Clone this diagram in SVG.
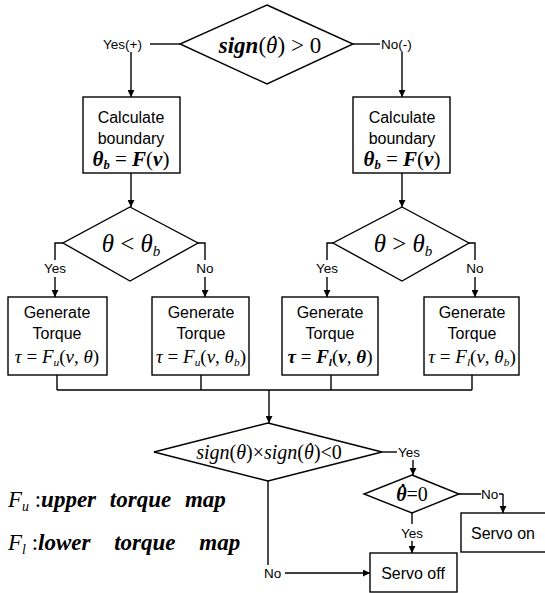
<svg xmlns="http://www.w3.org/2000/svg" width="545" height="593" viewBox="0 0 545 593">
<defs>
<marker id="ah" viewBox="0 0 10 10" refX="10" refY="5" markerWidth="7" markerHeight="7" orient="auto" markerUnits="userSpaceOnUse">
<path d="M0,0 L10,5 L0,10 z" fill="#000"/>
</marker>
</defs>
<style>
.shape{fill:#fff;stroke:#000;stroke-width:1.4}
.ln{fill:none;stroke:#000;stroke-width:1.4}
.arr{fill:none;stroke:#000;stroke-width:1.4;marker-end:url(#ah)}
.sans{font-family:"Liberation Sans",Arial,sans-serif;font-size:16px;fill:#000;text-anchor:middle}
.lab{font-family:"Liberation Sans",Arial,sans-serif;font-size:13.5px;fill:#000}
.mid{text-anchor:middle}
.math{font-family:"Liberation Serif","Times New Roman",serif;font-style:italic;font-weight:normal;fill:#000}
.b{font-weight:bold}
.rm{font-style:normal;font-weight:normal}
.sub{font-size:0.6em}
</style>
<rect width="545" height="593" fill="#fff"/>

<g id="connectors">
<path class="ln" d="M150,44 H180"/>
<path class="arr" d="M131,52 V97"/>
<path class="ln" d="M353,44 H380"/>
<path class="arr" d="M402,52 V97"/>
<path class="arr" d="M131,173 V207"/>
<path class="arr" d="M402,173 V207"/>
<path class="ln" d="M63,243 H55 V260"/>
<path class="arr" d="M55,277 V297"/>
<path class="ln" d="M198,243 H205 V260"/>
<path class="arr" d="M205,277 V297"/>
<path class="ln" d="M333,243 H327 V260"/>
<path class="arr" d="M327,277 V297"/>
<path class="ln" d="M469,243 H475 V260"/>
<path class="arr" d="M475,277 V297"/>
<path class="ln" d="M57,375 V390 M201,375 V390 M331,375 V390 M472,375 V390 M57,390 H472"/>
<path class="arr" d="M269,390 V423"/>
<path class="ln" d="M382,452 H397"/>
<path class="arr" d="M413,460 V475"/>
<path class="ln" d="M412,513 V524"/>
<path class="arr" d="M412,541 V553"/>
<path class="ln" d="M459,494 H481 M499,494 H503"/>
<path class="arr" d="M503,494 V513"/>
<path class="ln" d="M268,481 V565"/>
<path class="arr" d="M285,573 H370"/>
<text class="lab" x="103" y="49">Yes(+)</text>
<text class="lab" x="381" y="49">No(-)</text>
<text class="lab mid" x="55" y="273">Yes</text>
<text class="lab mid" x="205" y="273">No</text>
<text class="lab mid" x="327" y="273">Yes</text>
<text class="lab mid" x="475" y="273">No</text>
<text class="lab" x="398" y="457">Yes</text>
<text class="lab mid" x="412" y="538">Yes</text>
<text class="lab" x="481" y="499">No</text>
<text class="lab" x="264" y="578">No</text>
</g>

<g id="d-top">
<polygon class="shape" points="267,5 353,44 267,84 180,44"/>
<text class="math mid" x="270" y="53" font-size="23"><tspan class="b">sign</tspan><tspan class="rm">(</tspan>θ<tspan dx="-9" dy="-2">˙</tspan><tspan class="rm" dx="1.5" dy="2">) &gt; 0</tspan></text>
</g>

<g id="calc-left">
<rect class="shape" x="83" y="97" width="97" height="76"/>
<text class="sans" x="131" y="123">Calculate</text>
<text class="sans" x="131" y="144">boundary</text>
<text class="math b mid" x="131" y="166" font-size="21">θ<tspan class="sub" dy="3">b</tspan><tspan class="rm" dy="-3"> = </tspan>F<tspan class="rm">(</tspan>v<tspan class="rm">)</tspan></text>
</g>

<g id="calc-right">
<rect class="shape" x="353" y="97" width="97" height="76"/>
<text class="sans" x="402" y="123">Calculate</text>
<text class="sans" x="402" y="144">boundary</text>
<text class="math b mid" x="402" y="166" font-size="21">θ<tspan class="sub" dy="3">b</tspan><tspan class="rm" dy="-3"> = </tspan>F<tspan class="rm">(</tspan>v<tspan class="rm">)</tspan></text>
</g>

<g id="d-left">
<polygon class="shape" points="130,207 198,243 130,281 63,243"/>
<text class="math mid" x="131" y="252" font-size="25">θ<tspan class="rm"> &lt; </tspan>θ<tspan class="sub" dy="4">b</tspan></text>
</g>

<g id="d-right">
<polygon class="shape" points="402,207 469,243 402,281 333,243"/>
<text class="math mid" x="403" y="252" font-size="25">θ<tspan class="rm"> &gt; </tspan>θ<tspan class="sub" dy="4">b</tspan></text>
</g>

<g id="gen1">
<rect class="shape" x="8" y="297" width="99" height="78"/>
<text class="sans" x="57" y="318">Generate</text>
<text class="sans" x="57" y="339">Torque</text>
<text class="math mid" x="57" y="363" font-size="19">τ<tspan class="rm"> = </tspan>F<tspan class="sub" dy="3">u</tspan><tspan class="rm" dy="-3">(</tspan>v<tspan class="rm">, </tspan>θ<tspan class="rm">)</tspan></text>
</g>

<g id="gen2">
<rect class="shape" x="152" y="297" width="97" height="78"/>
<text class="sans" x="201" y="318">Generate</text>
<text class="sans" x="201" y="339">Torque</text>
<text class="math mid" x="201" y="363" font-size="19">τ<tspan class="rm"> = </tspan>F<tspan class="sub" dy="3">u</tspan><tspan class="rm" dy="-3">(</tspan>v<tspan class="rm">, </tspan>θ<tspan class="sub" dy="3">b</tspan><tspan class="rm" dy="-3">)</tspan></text>
</g>

<g id="gen3">
<rect class="shape" x="282" y="297" width="96" height="78"/>
<text class="sans" x="330" y="318">Generate</text>
<text class="sans" x="330" y="339">Torque</text>
<text class="math b mid" x="330" y="363" font-size="19">τ<tspan class="rm"> = </tspan>F<tspan class="sub" dy="3">l</tspan><tspan class="rm" dy="-3">(</tspan>v<tspan class="rm">, </tspan>θ<tspan class="rm">)</tspan></text>
</g>

<g id="gen4">
<rect class="shape" x="424" y="297" width="95" height="78"/>
<text class="sans" x="472" y="318">Generate</text>
<text class="sans" x="472" y="339">Torque</text>
<text class="math mid" x="472" y="363" font-size="19">τ<tspan class="rm"> = </tspan>F<tspan class="sub" dy="3">l</tspan><tspan class="rm" dy="-3">(</tspan>v<tspan class="rm">, </tspan>θ<tspan class="sub" dy="3">b</tspan><tspan class="rm" dy="-3">)</tspan></text>
</g>

<g id="d-sign">
<polygon class="shape" points="268,423 382,452 268,481 154,452"/>
<text class="math mid" x="269" y="459" font-size="20">sign<tspan class="rm">(</tspan>θ<tspan class="rm">)×</tspan>sign<tspan class="rm">(</tspan>θ<tspan dx="-7.8" dy="-2">˙</tspan><tspan class="rm" dx="1.2" dy="2">)&lt;</tspan><tspan class="rm b">0</tspan></text>
</g>

<g id="d-zero">
<polygon class="shape" points="412,475 459,494 412,513 364,494"/>
<text class="math b mid" x="412" y="501" font-size="20">θ<tspan dx="-8" dy="-2">˙</tspan><tspan class="rm b" dx="1.3" dy="2">=0</tspan></text>
</g>

<g id="servo-on">
<rect class="shape" x="461" y="513" width="90" height="39"/>
<text class="sans" x="503" y="539">Servo on</text>
</g>

<g id="servo-off">
<rect class="shape" x="370" y="553" width="87" height="39"/>
<text class="sans" x="413" y="579">Servo off</text>
</g>

<g id="legend">
<text class="math" x="8" y="507" font-size="23">F<tspan class="sub" dy="4">u</tspan><tspan class="rm" dy="-4"> :</tspan><tspan class="b" word-spacing="8">upper torque map</tspan></text>
<text class="math" x="8" y="550" font-size="23">F<tspan class="sub" dy="4">l</tspan><tspan class="rm" dy="-4"> :</tspan><tspan class="b" word-spacing="18">lower torque map</tspan></text>
</g>
</svg>
